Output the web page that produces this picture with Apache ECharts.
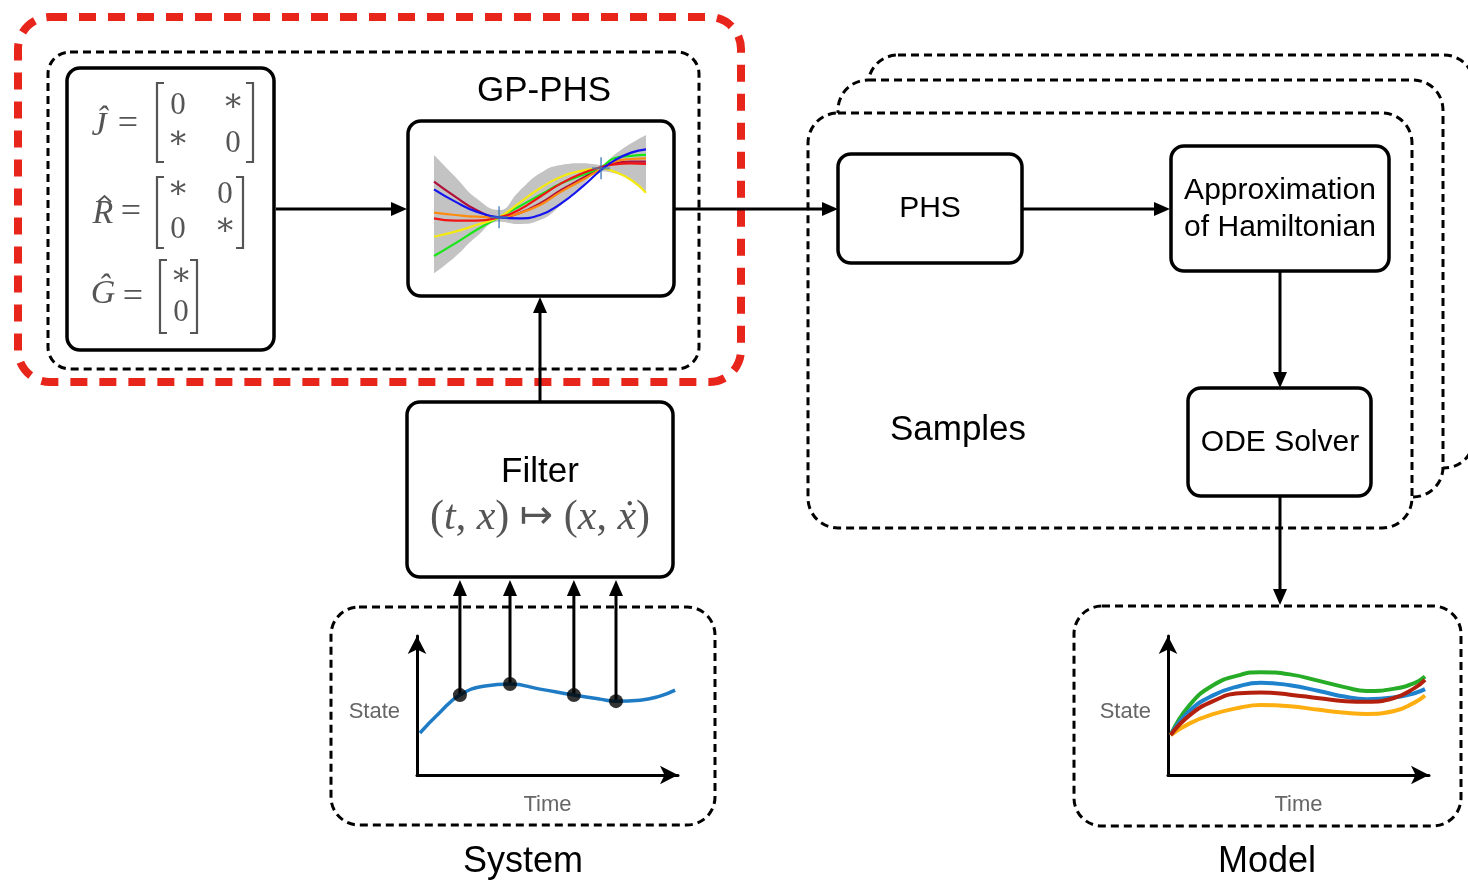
<!DOCTYPE html>
<html><head><meta charset="utf-8">
<script src="https://cdn.jsdelivr.net/npm/echarts@6/dist/echarts.min.js"></script>
<style>html,body{margin:0;padding:0;background:#fff}#c{width:1468px;height:883px}</style>
</head><body><div id="c"></div>
<script>
// ---------------- data ----------------
// GP-PHS mini plot (x in [0,10], y in [0,100])
const gpX = [0, 1, 2, 3.07, 4, 5, 6, 7, 7.88, 8.5, 9.3, 10];
const gpUpper = [82.8, 67.8, 52.9, 44.8, 57.5, 70.1, 75.9, 77, 75.9, 82.8, 90.8, 96.6];
const gpLower = [1.1, 12.6, 26.4, 36.8, 35.2, 37.9, 48.3, 62.1, 71.3, 70.1, 65.5, 57.5];
const sampleMaroon = [64.4, 54.0, 44.8, 39.8, 42.5, 49.4, 58.6, 66.7, 74.3, 77.0, 78.2, 78.2];
const sampleGreen  = [13.1, 21.8, 31.0, 39.8, 47.1, 55.2, 63.2, 69.0, 74.3, 80.5, 82.1, 82.8];
const sampleYellow = [26.4, 29.9, 34.5, 39.8, 49.4, 59.8, 67.8, 72.0, 73.6, 71.3, 65.5, 56.8];
const sampleOrange = [43.0, 41.4, 40.2, 39.8, 42.5, 48.3, 57.5, 65.5, 72.9, 78.2, 80.0, 80.5];
const sampleRed    = [39.1, 37.5, 37.5, 39.8, 44.8, 54.0, 63.2, 70.1, 74.3, 76.3, 77.0, 76.6];
const sampleBlue   = [59.1, 50.6, 43.7, 39.8, 39.1, 41.4, 49.4, 60.9, 72.4, 78.9, 84.4, 86.7];
const obsX = [3.07, 7.88];
const obsY = [39.8, 73.6];
// System plot (time vs state)
const sysT = [1.1, 8.7, 16.2, 25.7, 35.1, 46.4, 59.2, 69.1, 75.1, 84.2, 91.7, 97.4];
const sysState = [29, 43.4, 55.2, 61.4, 62.8, 59.3, 55.2, 52.4, 51.0, 51.7, 54.5, 58.6];
const sysSampleT = [16.2, 35.1, 59.2, 75.1];
const sysSampleState = [55.2, 62.8, 55.2, 51.0];
// Model plot
const modelT = [1, 8, 17, 27, 35, 46, 57, 67, 75, 85, 93, 97];
const modelGreen  = [27.6, 48, 62, 69, 71, 69.5, 65, 60.5, 58, 59.5, 63.5, 68];
const modelBlue   = [27.6, 44, 55, 61.5, 63.7, 62, 58, 54, 52.4, 53.5, 56.5, 59.3];
const modelRed    = [27.6, 41, 51, 56.5, 57, 55.5, 53, 51, 50.6, 53, 60, 65.7];
const modelOrange = [27.6, 35.5, 42, 46.5, 48.3, 47.5, 45, 43, 42.2, 44, 50, 54.9];
// texts
const labels = {
  gp: 'GP-PHS', phs: 'PHS', approx1: 'Approximation', approx2: 'of Hamiltonian',
  ode: 'ODE Solver', samples: 'Samples', filter: 'Filter', system: 'System', model: 'Model',
  state: 'State', time: 'Time'
};

// ---------------- helpers ----------------
const SANS = '"Liberation Sans", Arial, Helvetica, sans-serif';
const SERIF = '"Liberation Serif", "DejaVu Serif", "Times New Roman", serif';
const MGRAY = '#555';
const pairs = (xs, ys) => xs.map((x, i) => [x, ys[i]]);

function rect(x, y, w, h, r, style, z) {
  return { type: 'rect', z: z == null ? 0 : z, shape: { x: x, y: y, width: w, height: h, r: r }, style: style };
}
function solidBox(x1, y1, x2, y2) {
  return rect(x1, y1, x2 - x1, y2 - y1, 13, { fill: '#fff', stroke: '#000', lineWidth: 3.5 }, 1);
}
function dashBox(x1, y1, x2, y2, r, fill) {
  return rect(x1, y1, x2 - x1, y2 - y1, r, { fill: fill || 'transparent', stroke: '#000', lineWidth: 3, lineDash: [8, 5] }, 0);
}
function arrow(x1, y1, x2, y2) {
  const hl = 16, hw = 7;
  const dx = x2 - x1, dy = y2 - y1, L = Math.hypot(dx, dy), ux = dx / L, uy = dy / L;
  const bx = x2 - ux * hl, by = y2 - uy * hl;
  return [
    { type: 'line', z: 2, shape: { x1: x1, y1: y1, x2: bx + ux * 2, y2: by + uy * 2 }, style: { stroke: '#000', lineWidth: 3 } },
    { type: 'polygon', z: 2, shape: { points: [[x2, y2], [bx - uy * hw, by + ux * hw], [bx + uy * hw, by - ux * hw]] }, style: { fill: '#000' } }
  ];
}
function txt(x, y, text, size, extra) {
  return { type: 'text', z: 5, x: x, y: y, style: Object.assign({
    text: text, fontSize: size, fontFamily: SANS, fill: '#000', align: 'center', verticalAlign: 'middle' }, extra || {}) };
}
function mtxt(x, y, text, size, italic) {
  return txt(x, y, text, size, { fontFamily: SERIF, fill: MGRAY, fontStyle: italic ? 'italic' : 'normal' });
}
function lbr(x, y1, y2) {
  return { type: 'polyline', z: 5, shape: { points: [[x + 7, y1], [x, y1], [x, y2], [x + 7, y2]] }, style: { stroke: MGRAY, lineWidth: 2.2, fill: null } };
}
function rbr(x, y1, y2) {
  return { type: 'polyline', z: 5, shape: { points: [[x - 7, y1], [x, y1], [x, y2], [x - 7, y2]] }, style: { stroke: MGRAY, lineWidth: 2.2, fill: null } };
}

// ---------------- chart ----------------
const chart = echarts.init(document.getElementById('c'), null, { renderer: 'canvas' });

function miniAxes(gridIndex) {
  const axLine = { show: true, symbol: ['none', 'arrow'], symbolSize: [14, 18], lineStyle: { color: '#000', width: 3 } };
  return {
    x: { type: 'value', gridIndex: gridIndex, min: 0, max: 98.5, axisLine: axLine, axisTick: { show: false }, axisLabel: { show: false }, splitLine: { show: false },
         name: labels.time, nameLocation: 'middle', nameGap: 19, nameTextStyle: { color: '#666', fontSize: 22, fontFamily: SANS } },
    y: { type: 'value', gridIndex: gridIndex, min: 0, max: 96, axisLine: axLine, axisTick: { show: false }, axisLabel: { show: false }, splitLine: { show: false },
         name: labels.state, nameLocation: 'middle', nameRotate: 0, nameGap: 17,
         nameTextStyle: { color: '#666', fontSize: 22, fontFamily: SANS, verticalAlign: 'top', lineHeight: 12 } }
  };
}
const sysAx = miniAxes(1), modAx = miniAxes(2);

const lineS = (name, data, color, width, xi, yi, z) => ({
  type: 'line', name: name, data: data, xAxisIndex: xi, yAxisIndex: yi, smooth: true, symbol: 'none',
  lineStyle: { color: color, width: width }, z: z || 3, silent: true
});

const option = {
  animation: false,
  backgroundColor: '#fff',
  grid: [
    { left: 434, top: 130, width: 212, height: 145 },
    { left: 417, top: 636, width: 261, height: 139 },
    { left: 1168, top: 636, width: 261, height: 139 }
  ],
  xAxis: [
    { type: 'value', gridIndex: 0, min: 0, max: 10, show: false },
    sysAx.x, modAx.x
  ],
  yAxis: [
    { type: 'value', gridIndex: 0, min: 0, max: 100, show: false },
    sysAx.y, modAx.y
  ],
  series: [
    { type: 'line', name: 'bandUpper', data: pairs(gpX, gpUpper), smooth: true, symbol: 'none', lineStyle: { width: 0, opacity: 0 },
      areaStyle: { color: '#c3c3c3', opacity: 1, origin: 'start' }, z: 2, silent: true },
    { type: 'line', name: 'bandLower', data: pairs(gpX, gpLower), smooth: true, symbol: 'none', lineStyle: { width: 0, opacity: 0 },
      areaStyle: { color: '#ffffff', opacity: 1, origin: 'start' }, z: 2, silent: true },
    lineS('maroon', pairs(gpX, sampleMaroon), '#b0103a', 2.2, 0, 0),
    lineS('green', pairs(gpX, sampleGreen), '#19e619', 2.2, 0, 0),
    lineS('yellow', pairs(gpX, sampleYellow), '#f5ea10', 2.2, 0, 0),
    lineS('orange', pairs(gpX, sampleOrange), '#ff8a10', 2.2, 0, 0),
    lineS('red', pairs(gpX, sampleRed), '#f01414', 2.2, 0, 0),
    lineS('blue', pairs(gpX, sampleBlue), '#1414f0', 2.2, 0, 0),
    { type: 'scatter', name: 'obs', data: pairs(obsX, obsY), xAxisIndex: 0, yAxisIndex: 0, symbol: 'path://M9,0h2v20h-2z M0,9h20v2h-20z', symbolSize: [18, 22],
      itemStyle: { color: 'rgba(60,120,185,0.9)' }, z: 4, silent: true },
    lineS('system', pairs(sysT, sysState), '#1f7cc4', 3.5, 1, 1),
    { type: 'scatter', name: 'samples', data: pairs(sysSampleT, sysSampleState), xAxisIndex: 1, yAxisIndex: 1, symbolSize: 14,
      itemStyle: { color: '#000' }, z: 5, silent: true },
    lineS('mGreen', pairs(modelT, modelGreen), '#27ac27', 4, 2, 2),
    lineS('mBlue', pairs(modelT, modelBlue), '#1e82cc', 4, 2, 2),
    lineS('mOrange', pairs(modelT, modelOrange), '#fdae10', 4, 2, 2),
    lineS('mRed', pairs(modelT, modelRed), '#b4200e', 4, 2, 2)
  ]
};
chart.setOption(option);

// ---------------- diagram graphics ----------------
const els = [];
// stacked sample boxes (back to front)
els.push(dashBox(868, 55, 1474, 468, 30, '#fff'));
els.push(dashBox(838, 80, 1443, 497, 30, '#fff'));
els.push(dashBox(808, 113, 1412, 528, 30, '#fff'));
// red highlight + inner dashed
els.push(rect(18, 17, 723, 365, 32, { fill: 'transparent', stroke: '#e8251b', lineWidth: 8, lineDash: [17, 12] }, 0));
els.push(dashBox(48, 52, 699, 369, 22));
// system and model dashed boxes
els.push(dashBox(331, 607, 715, 825, 28));
els.push(dashBox(1074, 606, 1461, 826, 28));
// solid boxes
els.push(solidBox(67, 68, 274, 350));
els.push(solidBox(408, 121, 674, 296));
els.push(solidBox(407, 402, 673, 577));
els.push(solidBox(838, 154, 1022, 263));
els.push(solidBox(1171, 146, 1389, 271));
els.push(solidBox(1188, 388, 1371, 496));
// arrows
els.push.apply(els, arrow(276, 209, 407, 209));
els.push.apply(els, arrow(675, 209, 838, 209));
els.push.apply(els, arrow(1023, 209, 1170, 209));
els.push.apply(els, arrow(1280, 272, 1280, 388));
els.push.apply(els, arrow(1280, 497, 1280, 605));
els.push.apply(els, arrow(540, 402, 540, 297));
// sample arrows from system curve points to the filter
sysSampleT.forEach((t, i) => {
  const p = chart.convertToPixel({ gridIndex: 1 }, [t, sysSampleState[i]]);
  els.push.apply(els, arrow(p[0], p[1], p[0], 580));
});
// texts
els.push(txt(544, 91, labels.gp, 35));
els.push(txt(930, 209, labels.phs, 30));
els.push(txt(1280, 191, labels.approx1, 30));
els.push(txt(1280, 228, labels.approx2, 30));
els.push(txt(1280, 443, labels.ode, 30));
els.push(txt(958, 430, labels.samples, 35));
els.push(txt(540, 472, labels.filter, 35));
els.push({ type: 'text', z: 5, x: 540, y: 518, style: {
  text: '{n|(}{i|t}{n|, }{i|x}{n|) }{a|↦}{n| (}{i|x}{n|, }{i|x\u0307}{n|)}', align: 'center', verticalAlign: 'middle',
  rich: { n: { fontSize: 42, fontFamily: SERIF, fill: MGRAY }, i: { fontSize: 42, fontFamily: SERIF, fontStyle: 'italic', fill: MGRAY },
          a: { fontSize: 40, fontFamily: '"DejaVu Sans", sans-serif', fill: MGRAY } } } });
els.push(txt(523, 862, labels.system, 36));
els.push(txt(1267, 862, labels.model, 36));
// matrices
els.push(mtxt(99, 126, '\u0134', 34, true));
els.push(mtxt(128, 125, '=', 36, false));
els.push(lbr(157, 83, 162)); els.push(rbr(253, 83, 162));
els.push(mtxt(178, 106, '0', 31)); els.push(mtxt(233, 103, '∗', 32));
els.push(mtxt(178, 140, '∗', 32)); els.push(mtxt(233, 144, '0', 31));

els.push(mtxt(103, 214, 'R', 34, true));
els.push({ type: 'polyline', z: 5, shape: { points: [[98, 202], [104.5, 196], [111, 202]] }, style: { stroke: MGRAY, lineWidth: 1.8, fill: null } });
els.push(mtxt(131, 213, '=', 36, false));
els.push(lbr(157, 177, 248)); els.push(rbr(243, 177, 248));
els.push(mtxt(178, 190, '∗', 32)); els.push(mtxt(225, 195, '0', 31));
els.push(mtxt(178, 230, '0', 31)); els.push(mtxt(225, 227, '∗', 32));

els.push(mtxt(103, 294, '\u011C', 34, true));
els.push(mtxt(133, 298, '=', 36, false));
els.push(lbr(160, 260, 333)); els.push(rbr(197, 260, 333));
els.push(mtxt(181, 277, '∗', 32)); els.push(mtxt(181, 313, '0', 31));

chart.setOption({ graphic: { elements: els } });
</script>
</body></html>
